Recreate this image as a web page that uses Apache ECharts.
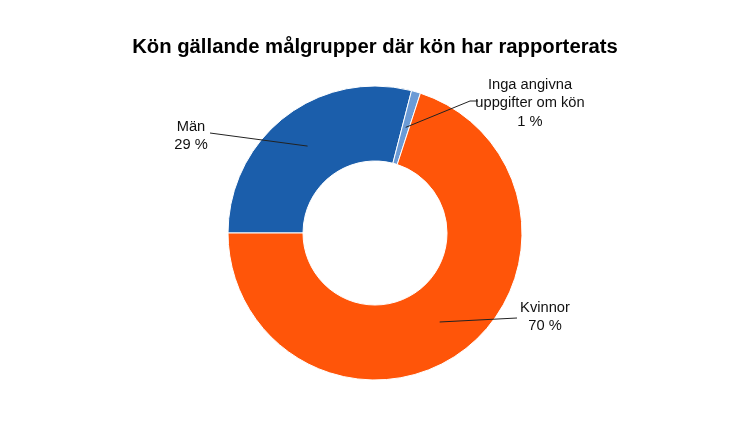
<!DOCTYPE html>
<html><head><meta charset="utf-8">
<script src="https://cdn.jsdelivr.net/npm/echarts@6/dist/echarts.min.js"></script>
<style>html,body{margin:0;padding:0;background:#fff}#c{width:750px;height:436px}</style>
</head><body><div id="c"></div>
<script>
const categories = ['Män', 'Inga angivna\nuppgifter om kön', 'Kvinnor'];
const values = [29, 1, 70];
const colors = ['#1b5eab', '#6b9bd6', '#ff5509'];
const titleText = 'Kön gällande målgrupper där kön har rapporterats';

// label anchor positions (layout only)
const labelPos = [[191, 136, 'center'], [530, 103, 'center'], [545, 317, 'center']];
const lineKnee = [null, [478, 101], null];
const lineOuter = [[210, 133], [470, 101], [517, 318]];

const cx = 375, cy = 233, R = 147, r = 72, midR = 110;
const total = values.reduce((a, b) => a + b, 0);
const midAngles = [];
let acc = 0;
values.forEach(v => { const a0 = 180 - acc / total * 360; acc += v; const a1 = 180 - acc / total * 360; midAngles.push((a0 + a1) / 2); });

const pieData = categories.map((c, i) => ({name: c, value: values[i], itemStyle: {color: colors[i]}}));
const labelData = categories.map((c, i) => ({name: c, value: values[i]}));

const chart = echarts.init(document.getElementById('c'), null, {renderer: 'canvas'});
chart.setOption({
  animation: false,
  title: {text: titleText, left: 'center', top: 32,
    textStyle: {fontFamily: 'Liberation Sans', fontWeight: 'bold', fontSize: 20.3, color: '#000'}},
  series: [{
    type: 'pie',
    z: 2,
    center: [cx, cy],
    radius: [r, R],
    startAngle: 180,
    clockwise: true,
    itemStyle: {borderColor: '#fff', borderWidth: 1},
    label: {show: false},
    labelLine: {show: false},
    data: pieData
  }, {
    type: 'pie',
    z: 5,
    silent: true,
    center: [cx, cy],
    radius: [r, R],
    startAngle: 180,
    clockwise: true,
    avoidLabelOverlap: false,
    itemStyle: {color: 'rgba(0,0,0,0)', borderWidth: 0},
    emphasis: {disabled: true},
    label: {show: true, position: 'outside', formatter: p => p.name + '\n' + p.value + ' %',
      fontFamily: 'Liberation Sans', fontSize: 14.7, color: '#111', lineHeight: 18.5, align: 'center'},
    labelLine: {show: true, lineStyle: {color: '#222', width: 1}},
    labelLayout: function (params) {
      const i = params.dataIndex;
      const a = midAngles[i] * Math.PI / 180;
      const inner = [cx + midR * Math.cos(a), cy - midR * Math.sin(a)];
      const pts = lineKnee[i] ? [inner, lineOuter[i], lineKnee[i]] : [inner, lineOuter[i], lineOuter[i]];
      return {x: labelPos[i][0], y: labelPos[i][1], align: labelPos[i][2], verticalAlign: 'middle', labelLinePoints: pts};
    },
    data: labelData
  }]
});
</script></body></html>
